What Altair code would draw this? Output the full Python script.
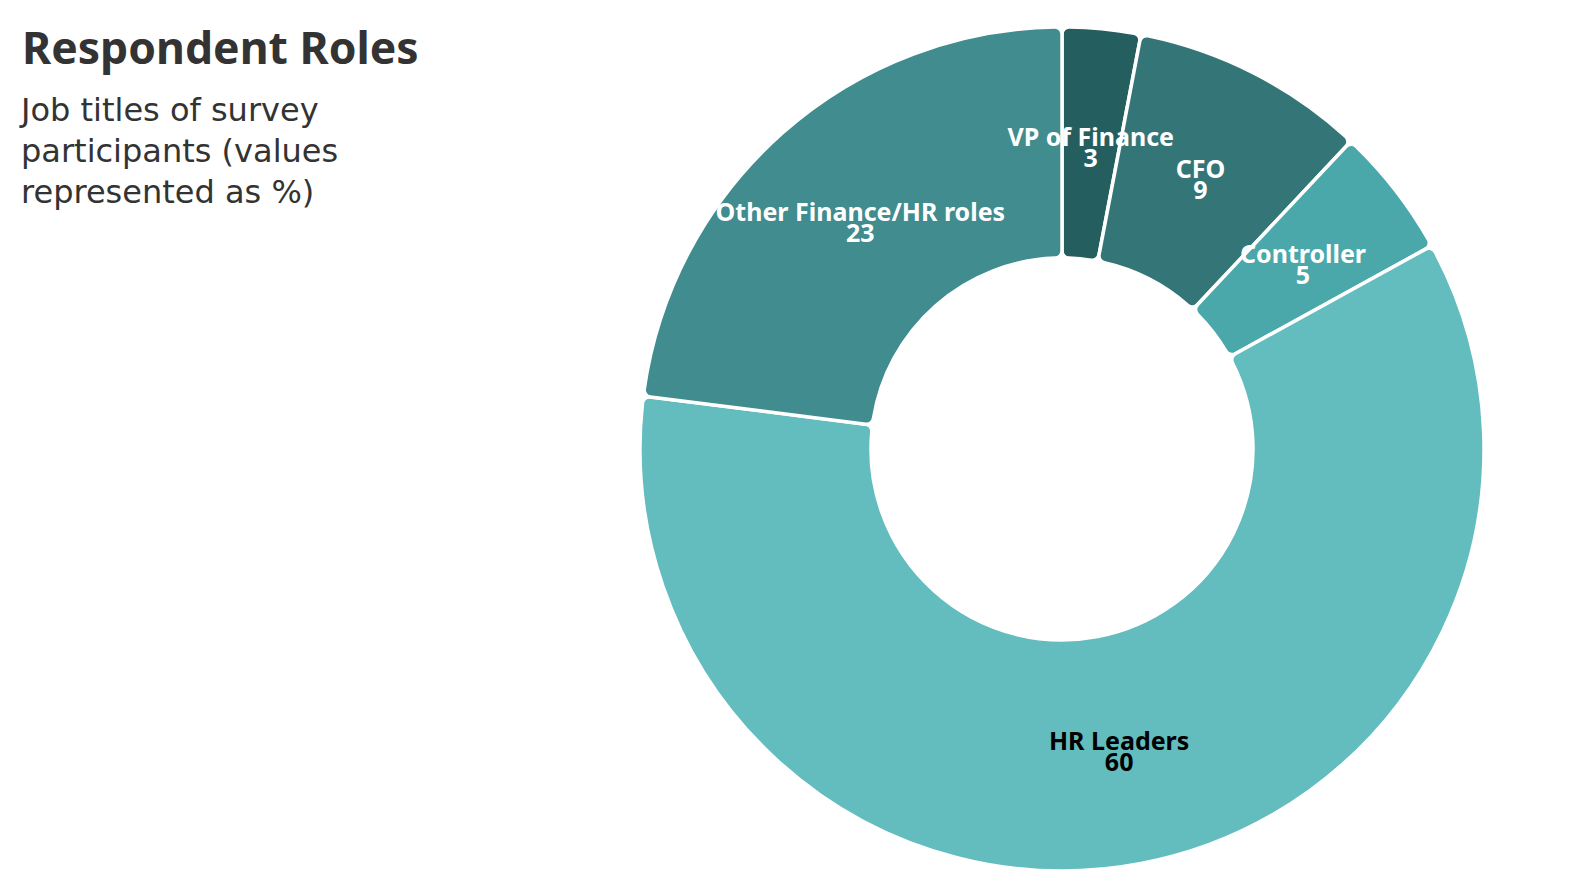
import altair as alt
import pandas as pd

roles = ["VP of Finance", "CFO", "Controller", "HR Leaders", "Other Finance/HR roles"]
values = [3, 9, 5, 60, 23]
colors = ["#255e5f", "#347578", "#4aa8ab", "#63bcbe", "#408c8f"]
label_colors = ["#ffffff", "#ffffff", "#ffffff", "#000000", "#ffffff"]

title_text = ["Respondent Roles"]
subtitle_lines = ["Job titles of survey", "participants (values", "represented as %)"]

df = pd.DataFrame({
    "role": roles,
    "value": values,
    "order": list(range(len(roles))),
    "lcolor": label_colors,
})
df["label"] = df["role"] + "\n" + df["value"].astype(str)

title_df = pd.DataFrame({"t": title_text})
sub_df = pd.DataFrame({"t": ["\n".join(subtitle_lines)]})

CX, CY = 1054, 441
FONT = "Noto Sans"

base = alt.Chart(df).encode(
    theta=alt.Theta("value:Q", stack=True),
    order=alt.Order("order:Q"),
)

arcs = base.mark_arc(
    outerRadius=422, innerRadius=191, stroke="white", strokeWidth=3.5,
    cornerRadius=7,
).encode(
    x=alt.value(CX), y=alt.value(CY),
    color=alt.Color("role:N", scale=alt.Scale(domain=roles, range=colors), legend=None),
)

labels = base.mark_text(
    radius=305, font=FONT, fontSize=25, fontWeight="bold", dy=-7,
    lineBreak="\n", lineHeight=21, align="center", baseline="middle",
).encode(
    x=alt.value(CX), y=alt.value(CY),
    text="label:N",
    color=alt.Color("lcolor:N", scale=None),
)

title = alt.Chart(title_df).mark_text(
    font=FONT, fontSize=44.5, fontWeight="bold", color="#333333",
    align="left", baseline="alphabetic",
).encode(x=alt.value(14), y=alt.value(56), text="t:N")

subtitle = alt.Chart(sub_df).mark_text(
    font="DejaVu Sans", fontSize=32, color="#333333",
    align="left", baseline="alphabetic", lineBreak="\n", lineHeight=41,
).encode(x=alt.value(13), y=alt.value(113), text="t:N")

chart = alt.layer(arcs, labels, title, subtitle).properties(
    width=1560, height=870,
    padding=0,
    autosize=alt.AutoSizeParams(type="none"),
).configure_view(stroke=None)

chart.save("out.html", embed_options={"renderer": "svg", "actions": False})
